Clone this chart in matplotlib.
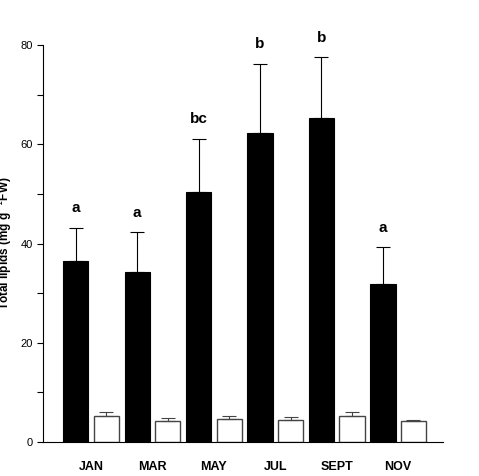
import matplotlib
matplotlib.use('Agg')
import matplotlib.pyplot as plt
import numpy as np

months = ['JAN', 'MAR', 'MAY', 'JUL', 'SEPT', 'NOV']
black_vals = [36.5, 34.3, 50.3, 62.2, 65.3, 31.8]
black_err = [6.7, 8.0, 10.8, 14.0, 12.3, 7.5]
white_vals = [5.3, 4.3, 4.6, 4.4, 5.3, 4.3]
white_err = [0.8, 0.5, 0.6, 0.7, 0.8, 0.2]
letters = ['a', 'a', 'bc', 'b', 'b', 'a']

plt.rcParams['font.family'] = ['Liberation Sans', 'DejaVu Sans']
fig = plt.figure(figsize=(4.79, 4.76), dpi=100)
ax = fig.add_axes([0.0898, 0.0714, 0.835, 0.834])
x = np.arange(len(months))
w = 0.41
off = 0.248
ax.bar(x - off, black_vals, w, color='black', edgecolor='black', linewidth=0.8)
ax.errorbar(x - off, black_vals, yerr=[np.zeros(6), black_err], fmt='none', ecolor='black', elinewidth=0.8, capsize=5, capthick=0.8)
ax.bar(x + off, white_vals, w, color='white', edgecolor='#444444', linewidth=1)
ax.errorbar(x + off, white_vals, yerr=[np.zeros(6), white_err], fmt='none', ecolor='#444444', elinewidth=0.8, capsize=5, capthick=0.8)
for xi, v, e, l in zip(x, black_vals, black_err, letters):
    ax.text(xi - off, v + e + 2.5, l, ha='center', va='bottom', fontsize=11, fontweight='bold')
ax.set_xlim(-0.782, 5.73)
ax.set_ylim(0, 80)
ax.set_yticks([0, 20, 40, 60, 80])
ax.set_yticks([10, 30, 50, 70], minor=True)
ax.tick_params(axis='y', which='both', labelsize=8, direction='out', length=4, width=0.8)
ax.set_xticks(x)
ax.set_xticklabels(months, fontsize=9, fontweight='bold')
ax.tick_params(axis='x', length=0, pad=14)
for s in ['top', 'right']:
    ax.spines[s].set_visible(False)
ax.spines['left'].set_linewidth(0.8)
ax.spines['bottom'].set_linewidth(0.8)
ax.set_ylabel('Total lipids (mg g$^{-1}$FW)', fontsize=8.5, fontweight='bold', labelpad=4)
fig.savefig('out.png', dpi=100)
